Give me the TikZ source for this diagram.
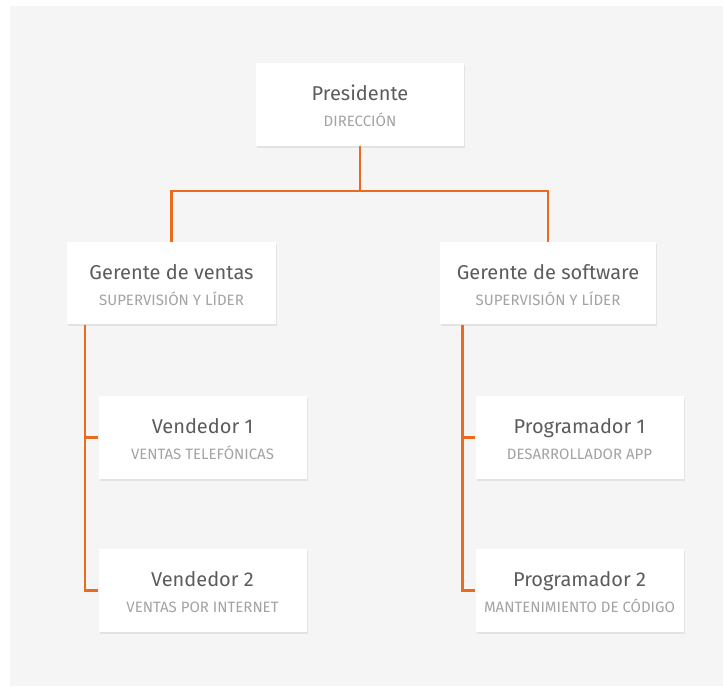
\documentclass[tikz,border=0pt]{standalone}
\usepackage{fontspec}
\setmainfont{Fira Sans}
\usetikzlibrary{shadows}
\definecolor{bggray}{HTML}{F5F5F5}
\definecolor{linkorange}{HTML}{EC6A1E}
\definecolor{titlegray}{HTML}{5C5C5C}
\definecolor{subgray}{HTML}{A3A3A3}
\begin{document}
\begin{tikzpicture}[x=1pt,y=-1pt,
  box/.style={fill=white,minimum width=208pt,minimum height=83pt,inner sep=0pt,
    drop shadow={shadow xshift=1pt,shadow yshift=-1.5pt,fill=black,opacity=0.07}},
  role/.style={anchor=base,inner sep=0pt,text=titlegray,font=\fontsize{20}{24}\selectfont},
  duty/.style={anchor=base,inner sep=0pt,text=subgray,font=\fontsize{15}{18}\selectfont},
  link/.style={draw=linkorange,line width=2.5pt}]

  \useasboundingbox (0,0) rectangle (723,686);
  \fill[white] (0,0) rectangle (723,686);
  \fill[bggray] (10,6) rectangle (723,686);

  % Boxes
  \node[box] at(360,104.5)(pres){};
  \node[box,minimum width=209pt,minimum height=82pt] at(171.5,283)(gv){};
  \node[box,minimum width=216pt,minimum height=82pt] at(548,283)(gs){};
  \node[box] at(202.5,437.5)(v1){};
  \node[box] at(202.5,590.5)(v2){};
  \node[box] at(579.5,437.5)(p1){};
  \node[box] at(579.5,590.5)(p2){};

  % Titles
  \node[role] at([yshift=4pt]pres.center)(pres-t){Presidente};
  \node[role] at([yshift=4pt]gv.center)(gv-t){Gerente de ventas};
  \node[role] at([yshift=4pt]gs.center)(gs-t){Gerente de software};
  \node[role] at([yshift=4pt]v1.center)(v1-t){Vendedor 1};
  \node[role] at([yshift=4pt]v2.center)(v2-t){Vendedor 2};
  \node[role] at([yshift=4pt]p1.center)(p1-t){Programador 1};
  \node[role] at([yshift=4pt]p2.center)(p2-t){Programador 2};

  % Duties
  \node[duty] at([yshift=-22pt]pres.center)(pres-s){DIRECCIÓN};
  \node[duty] at([yshift=-22pt]gv.center)(gv-s){SUPERVISIÓN Y LÍDER};
  \node[duty] at([yshift=-22pt]gs.center)(gs-s){SUPERVISIÓN Y LÍDER};
  \node[duty] at([yshift=-22pt]v1.center)(v1-s){VENTAS TELEFÓNICAS};
  \node[duty] at([yshift=-22pt]v2.center)(v2-s){VENTAS POR INTERNET};
  \node[duty] at([yshift=-22pt]p1.center)(p1-s){DESARROLLADOR APP};
  \node[duty] at([yshift=-22pt]p2.center)(p2-s){MANTENIMIENTO DE CÓDIGO};

  % top fork
  \coordinate (fork) at(360,191);
  \draw[link] (pres) -- (fork);
  \draw[link] (gv) |- (fork) -| (gs);

  % side trunks
  \coordinate (gvfoot) at(85,324.5);
  \coordinate (gsfoot) at(462.5,324.5);
  \draw[link] (gvfoot) |- (v2);
  \draw[link] (v1.west) -- (v1.west -| gvfoot);
  \draw[link] (gsfoot) |- (p2);
  \draw[link] (p1.west) -- (p1.west -| gsfoot);

\end{tikzpicture}
\end{document}
